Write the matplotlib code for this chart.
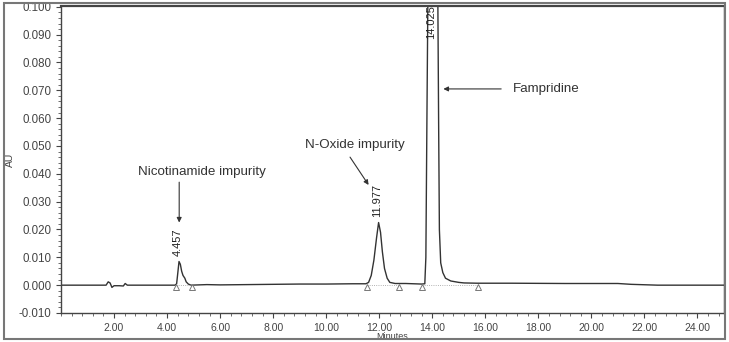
import matplotlib
matplotlib.use("Agg")
import matplotlib.pyplot as plt
from matplotlib.patches import Rectangle
from matplotlib.ticker import MultipleLocator, FormatStrFormatter

plt.rcParams["font.family"] = ["Liberation Sans", "DejaVu Sans"]

# Chromatogram trace (minutes, AU)
time_min = [0.0, 1.0, 1.7, 1.78, 1.85, 1.92, 2.0, 2.2, 2.35, 2.42, 2.5, 3.0, 4.0,
            4.30, 4.36, 4.40, 4.45, 4.50, 4.55, 4.60, 4.67, 4.72, 4.80, 4.90,
            5.5, 6.0, 7.0, 8.0, 9.0, 10.0, 11.0, 11.5,
            11.6, 11.7, 11.8, 11.9, 11.977, 12.05, 12.12, 12.2, 12.3, 12.4, 12.6,
            13.0, 13.3, 13.6, 13.72, 13.76, 13.80, 13.85, 14.025, 14.20, 14.24,
            14.27, 14.32, 14.40, 14.5, 14.7, 15.0, 15.2, 15.7, 17.0, 19.0, 21.0,
            21.5, 22.5, 25.0]
absorbance = [0.0, 0.0, 0.0, 0.0012, 0.0008, -0.0008, -0.0002, -0.0002, -0.0003, 0.0006, 0.0, 0.0, 0.0,
              0.0, 0.0005, 0.004, 0.0085, 0.0075, 0.005, 0.0035, 0.0025, 0.0012, 0.0004, 0.0,
              0.0002, 0.0001, 0.0002, 0.0003, 0.0004, 0.0004, 0.0005, 0.0005,
              0.001, 0.0035, 0.009, 0.017, 0.0225, 0.019, 0.012, 0.006, 0.0025, 0.001, 0.0006,
              0.0006, 0.0005, 0.0004, 0.0005, 0.01, 0.06, 0.12, 0.16, 0.12, 0.06,
              0.02, 0.008, 0.0045, 0.0025, 0.0015, 0.001, 0.0008, 0.0007, 0.0007, 0.0006, 0.0006,
              0.0003, 0.0, 0.0]

# Integration start / end marks
peak_starts = [4.34, 11.55, 13.62]
peak_ends = [4.94, 12.75, 15.74]

# Peak labels
rt_labels = ["4.457", "11.977", "14.025"]
rt_values = [4.457, 11.977, 14.025]

fig = plt.figure(figsize=(7.29, 3.42), dpi=100)
ax = fig.add_axes([0.0837, 0.0848, 0.9093, 0.8977])

ax.plot(time_min, absorbance, color="#333333", lw=1.0)

# integration baselines and triangles
for s, e in zip(peak_starts, peak_ends):
    ax.plot([s, e], [0.0, 0.0], color="#999999", lw=0.6, ls=":")
ax.plot(peak_starts + peak_ends, [-0.0008] * 6, ls="none", marker="^", ms=5,
        mfc="white", mec="#777777", mew=0.7)

ax.set_xlim(0, 25)
ax.set_ylim(-0.010, 0.1003)
ax.xaxis.set_minor_locator(MultipleLocator(0.4))
ax.xaxis.set_major_formatter(FormatStrFormatter("%.2f"))
ax.yaxis.set_major_locator(MultipleLocator(0.01))
ax.yaxis.set_minor_locator(MultipleLocator(0.002))
ax.yaxis.set_major_formatter(FormatStrFormatter("%.3f"))
ax.set_xticks([t for t in range(2, 25, 2)])
ax.tick_params(axis="both", which="major", length=3.5, width=0.8,
               colors="#444444", labelcolor="#444444")
ax.tick_params(axis="x", which="major", labelsize=7.5)
ax.tick_params(axis="y", which="major", labelsize=8.3)
ax.tick_params(axis="both", which="minor", length=2, width=0.6, colors="#555555")
for sp in ax.spines.values():
    sp.set_color("#444444")
    sp.set_linewidth(1.0)
ax.spines["top"].set_linewidth(1.6)

ax.set_xlabel("Minutes", fontsize=6.5, color="#444444")
ax.xaxis.set_label_coords(0.5, -0.063)
ax.set_ylabel("AU", fontsize=7.5, color="#444444")
ax.yaxis.set_label_coords(-0.069, 0.5)

# retention time labels
rt_y = [0.0155, 0.0305, 0.0945]
for lab, t, y in zip(rt_labels, rt_values, rt_y):
    ax.text(t - 0.05, y, lab, rotation=90, ha="center", va="center",
            fontsize=8, color="#222222")

# annotations
arrow = dict(arrowstyle="-|>", color="#333333", lw=0.8,
             mutation_scale=7, shrinkA=0, shrinkB=0)
ax.text(5.3, 0.0405, "Nicotinamide impurity", ha="center", va="center",
        fontsize=9.6, color="#333333")
ax.annotate("", xy=(4.457, 0.0225), xytext=(4.457, 0.037), arrowprops=arrow)
ax.text(11.1, 0.0505, "N-Oxide impurity", ha="center", va="center",
        fontsize=9.6, color="#333333")
ax.annotate("", xy=(11.6, 0.036), xytext=(10.9, 0.046), arrowprops=arrow)
ax.text(17.05, 0.0705, "Fampridine", ha="left", va="center",
        fontsize=9.6, color="#333333")
ax.annotate("", xy=(14.42, 0.0705), xytext=(16.6, 0.0705), arrowprops=arrow)

# outer frame
fig.patches.append(Rectangle((0.005, 0.01), 0.99, 0.98, transform=fig.transFigure,
                             fill=False, edgecolor="#777777", lw=1.5))

fig.savefig("out.png", dpi=100)
